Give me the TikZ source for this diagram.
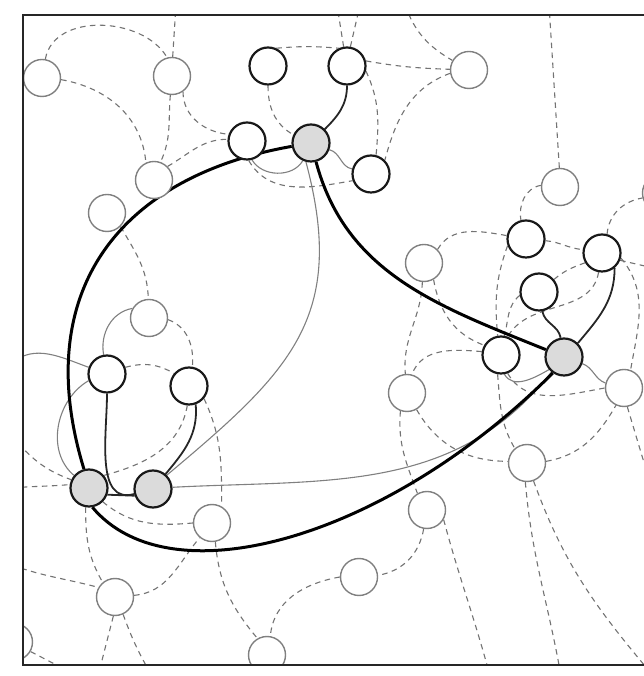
\documentclass[tikz,border=0pt]{standalone}
\usetikzlibrary{backgrounds}

\begin{document}
\begin{tikzpicture}[
    x=1pt, y=1pt,
    cell/.style={
        circle,
        draw=black!50,
        line width=1.4pt,
        fill=white,
        minimum size=37pt,
        inner sep=0pt
    },
    peer/.style={
        cell,
        draw=black!90,
        line width=2.2pt
    },
    hub/.style={
        peer,
        fill=black!14
    },
    link/.style={draw=black!55, line width=1.1pt, dash pattern=on 5.5pt off 4.5pt},
    tie/.style={draw=black!50, line width=1.1pt},
    bond/.style={draw=black!85, line width=1.8pt},
    route/.style={draw=black, line width=3pt}
]

\useasboundingbox (0,0) rectangle (643,676);

\begin{scope}
\clip (23,11) rectangle (700,661);

% hubs
\node[hub] (hubN) at (311,533) {};
\node[hub] (hubE) at (564,319) {};
\node[hub] (hubW) at (89,188) {};
\node[hub] (hubS) at (153,187) {};

% north cluster
\node[peer] (nA) at (268,610) {};
\node[peer] (nB) at (347,610) {};
\node[peer] (nC) at (247,535) {};
\node[peer] (nD) at (371,502) {};

% east cluster
\node[peer] (eA) at (526,437) {};
\node[peer] (eB) at (602,423) {};
\node[peer] (eC) at (539,384) {};
\node[peer] (eD) at (501,321) {};

% west cluster
\node[peer] (wA) at (107,302) {};
\node[peer] (wB) at (189,290) {};

% idle cells
\node[cell] (g1) at (42,598) {};
\node[cell] (g2) at (172,600) {};
\node[cell] (g3) at (469,606) {};
\node[cell] (g4) at (154,496) {};
\node[cell] (g5) at (560,489) {};
\node[cell] (g6) at (661,483) {};
\node[cell] (g7) at (107,463) {};
\node[cell] (g8) at (424,413) {};
\node[cell] (g9) at (149,358) {};
\node[cell] (g10) at (624,288) {};
\node[cell] (g11) at (407,283) {};
\node[cell] (g12) at (527,213) {};
\node[cell] (g13) at (427,166) {};
\node[cell] (g14) at (212,153) {};
\node[cell] (g15) at (359,99) {};
\node[cell] (g16) at (115,79) {};
\node[cell] (g17) at (14,34) {};
\node[cell] (g18) at (267,21) {};

% loose ends outside the frame
\coordinate (tB) at (176,671);
\coordinate (tI1) at (337,671);
\coordinate (tI2) at (360,671);
\coordinate (tJ) at (405,671);
\coordinate (tL) at (549,671);
\coordinate (eP) at (662,406);
\coordinate (eT) at (648,200);
\coordinate (bV1) at (561,0);
\coordinate (bV2) at (650,4);
\coordinate (bW) at (490,0);
\coordinate (bAB1) at (98,0);
\coordinate (bAB2) at (152,0);
\coordinate (bAD) at (70,4);
\coordinate (lY) at (12,313);
\coordinate (lW1) at (12,240);
\coordinate (lW2) at (12,188);
\coordinate (lP) at (12,111);
\end{scope}

\begin{scope}[on background layer]
\clip (23,11) rectangle (700,661);

% dashed mesh
\draw[link] (g1.80) to[out=80, in=120] (g2.105);
\draw[link] (g2.88) -- (tB);
\draw[link] (g1.-5) to[out=-10, in=95] (g4.115);
\draw[link] (g2.-95) to[out=-95, in=65] (g4.70);
\draw[link] (g2.-55) to[out=-90, in=175] (nC.160);
\draw[link] (g4.45) to[out=30, in=180] (nC.175);
\draw[link] (nA) to[out=-90, in=150] (hubN.155);
\draw[link] (nA.65) to[out=5, in=175] (nB.115);
\draw[link] (nC.-85) to[out=-60, in=190] (nD.200);
\draw[link] (nB.100) -- (tI1);
\draw[link] (nB.80) -- (tI2);
\draw[link] (tJ) to[out=-70, in=150] (g3);
\draw[link] (nB.15) to[out=-10, in=178] (g3);
\draw[link] (nB.-15) to[out=-65, in=85] (nD.75);
\draw[link] (g3.190) to[out=200, in=75] (nD.45);
\draw[link] (g5.92) -- (tL);
\draw[link] (g5.175) to[out=190, in=100] (eA.105);
\draw[link] (g8.45) to[out=60, in=170] (eA.170);
\draw[link] (eA.200) to[out=250, in=95] (eD.100);
\draw[link] (eC.190) to[out=220, in=75] (eD.80);
\draw[link] (eA.-5) to[out=-5, in=175] (eB.170);
\draw[link] (eB.75) to[out=85, in=190] (g6.195);
\draw[link] (eB.-22) -- (eP);
\draw[link] (eB.-15) to[out=-50, in=80] (g10.70);
\draw[link] (eB.210) to[out=200, in=40] (eC.40);
\draw[link] (eB.-100) to[out=-100, in=60] (eD.70);
\draw[link] (g8.-95) to[out=-92, in=95] (g11.95);
\draw[link] (g8.-60) to[out=-80, in=160] (eD.150);
\draw[link] (eD.170) to[out=175, in=70] (g11.75);
\draw[link] (eD.-100) to[out=-85, in=120] (g12.130);
\draw[link] (eD.-70) to[out=-60, in=190] (g10.180);
\draw[link] (g11.-60) to[out=-60, in=180] (g12.175);
\draw[link] (g12.5) to[out=10, in=-120] (g10.-115);
\draw[link] (g11.-110) to[out=-95, in=110] (g13.120);
\draw[link] (g10.-80) -- (eT);
\draw[link] (g12.-95) to[out=-85, in=100] (bV1);
\draw[link] (g12.-70) to[out=-70, in=130] (bV2);
\draw[link] (g13.-30) to[out=-75, in=105] (bW);
\draw[link] (g13.-100) to[out=-100, in=10] (g15.5);
\draw[link] (g15.180) to[out=190, in=85] (g18.80);
\draw[link] (g14.-80) to[out=-85, in=130] (g18.120);
\draw[link] (g16.5) to[out=5, in=-130] (g14.-130);
\draw[link] (g14.180) to[out=185, in=-40] (hubW.-45);
\draw[link] (wB.-40) to[out=-65, in=90] (g14.60);
\draw[link] (wB.-95) to[out=-100, in=15] (hubW.40);
\draw[link] (wA.20) to[out=15, in=150] (wB.140);
\draw[link] (g9.-5) to[out=-20, in=85] (wB.80);
\draw[link] (g7.-45) to[out=-60, in=92] (g9.92);
\draw[link] (lW1) to[out=-50, in=160] (hubW.155);
\draw[link] (lW2) to[out=5, in=185] (hubW.170);
\draw[link] (hubW.-100) to[out=-90, in=120] (g16.130);
\draw[link] (lP) to[out=-20, in=165] (g16.150);
\draw[link] (g16.-95) -- (bAB1);
\draw[link] (g16.-65) to[out=-70, in=120] (bAB2);
\draw[link] (g17.-30) -- (bAD);

% thin ties
\draw[tie] (hubN.-105) to[out=-75, in=40, looseness=1.2] (hubS.45);
\draw[tie] (hubS.5) to[out=3, in=232] (hubE.230);
\draw[tie] (nC.-75) to[out=-60, in=-120] (hubN.-115);
\draw[tie] (hubN.-20) to[out=-15, in=170] (nD.165);
\draw[tie] (eD.-80) to[out=-60, in=-150] (hubE.-140);
\draw[tie] (hubE.-20) to[out=-20, in=160] (g10.165);
\draw[tie] (g9.150) to[out=190, in=100] (wA.100);
\draw[tie] (lY) to[out=40, in=160] (wA.160);
\draw[tie] (wA.200) to[out=210, in=140] (hubW.140);

% bonds to the hubs
\draw[bond] (nB) to[out=-90, in=45] (hubN.45);
\draw[bond] (wA) to[out=-90, in=195] (hubS.195);
\draw[bond] (wB.-70) to[out=-85, in=50] (hubS.50);
\draw[bond] (hubW.-20) -- (hubS.200);
\draw[bond] (eC) to[out=-80, in=100] (hubE.100);
\draw[bond] (eB.-50) to[out=-90, in=50] (hubE.45);

% main loop
\draw[route] (hubN.190) to[out=190, in=107, out distance=177pt, in distance=184pt] (hubW.105);
\draw[route] (hubN) to[out=-75, in=158] (hubE);
\draw[route] (hubW.-80) to[out=-50, in=225, out distance=122pt, in distance=233pt] (hubE.235);
\end{scope}

% frame
\draw[line width=2.2pt, black!85] (23,11) rectangle (700,661);

\end{tikzpicture}
\end{document}
